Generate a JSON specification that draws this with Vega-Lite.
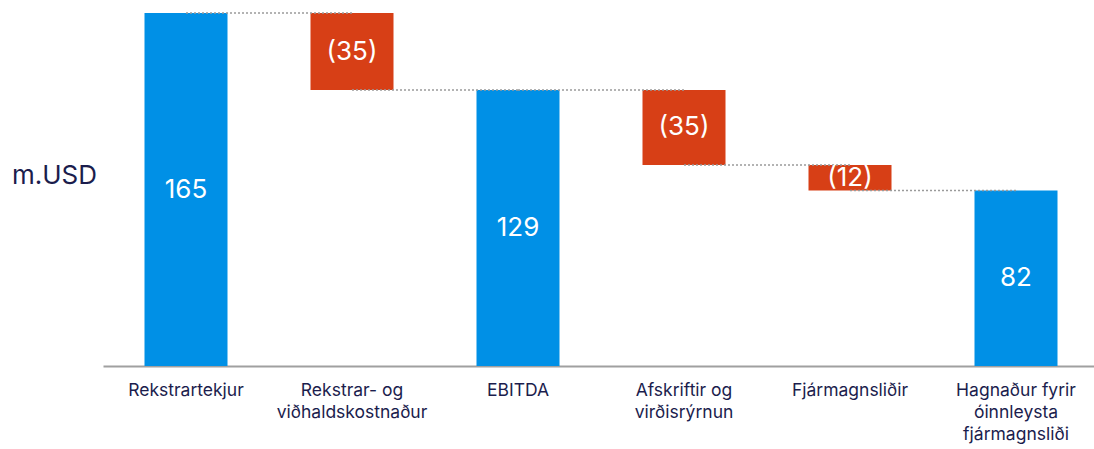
{
  "$schema": "https://vega.github.io/schema/vega-lite/v6.json",
  "width": 996,
  "height": 353,
  "autosize": {"type": "none"},
  "padding": {"left": 103, "top": 13, "right": 0, "bottom": 83},
  "background": "white",
  "config": {"view": {"stroke": null}, "font": "Inter"},
  "datasets": {
    "bars": [
      {"cat": "Rekstrartekjur", "start": 0, "end": 165, "label": "165", "kind": "total"},
      {"cat": "Rekstrar- og|viðhaldskostnaður", "start": 165, "end": 129, "label": "(35)", "kind": "neg"},
      {"cat": "EBITDA", "start": 0, "end": 129, "label": "129", "kind": "total"},
      {"cat": "Afskriftir og|virðisrýrnun", "start": 129, "end": 94, "label": "(35)", "kind": "neg"},
      {"cat": "Fjármagnsliðir", "start": 94, "end": 82, "label": "(12)", "kind": "neg"},
      {"cat": "Hagnaður fyrir|óinnleysta|fjármagnsliði", "start": 0, "end": 82, "label": "82", "kind": "total"}
    ],
    "links": [
      {"cat": "Rekstrartekjur", "next": "Rekstrar- og|viðhaldskostnaður", "level": 165},
      {"cat": "Rekstrar- og|viðhaldskostnaður", "next": "EBITDA", "level": 129},
      {"cat": "EBITDA", "next": "Afskriftir og|virðisrýrnun", "level": 129},
      {"cat": "Afskriftir og|virðisrýrnun", "next": "Fjármagnsliðir", "level": 94},
      {"cat": "Fjármagnsliðir", "next": "Hagnaður fyrir|óinnleysta|fjármagnsliði", "level": 82}
    ]
  },
  "layer": [
    {
      "data": {"name": "bars"},
      "mark": {"type": "bar"},
      "encoding": {
        "x": {
          "field": "cat", "type": "nominal", "sort": null,
          "scale": {"paddingInner": 0.5, "paddingOuter": 0.25},
          "axis": {
            "title": null,
            "labelAngle": 0,
            "labelExpr": "split(datum.value, '|')",
            "labelFontSize": 17.5,
            "labelColor": "#1b1d4d",
            "labelLineHeight": 22,
            "labelPadding": 15,
            "labelFont": "Inter",
            "ticks": false,
            "domainColor": "#a0a0a0",
            "domainWidth": 2
          }
        },
        "y": {
          "field": "start", "type": "quantitative",
          "scale": {"domain": [0, 165], "nice": false, "zero": true},
          "axis": {
            "title": "m.USD",
            "titleAngle": 0,
            "titleX": -49,
            "titleY": 162,
            "titleAlign": "center",
            "titleBaseline": "middle",
            "titleFontSize": 26,
            "titleFontWeight": "normal",
            "titleColor": "#1b1d4d",
            "titleFont": "Inter",
            "labels": false,
            "ticks": false,
            "domain": false,
            "grid": false
          }
        },
        "y2": {"field": "end"},
        "color": {
          "field": "kind", "type": "nominal",
          "scale": {"domain": ["total", "neg"], "range": ["#0090e6", "#d73f16"]},
          "legend": null
        }
      }
    },
    {
      "data": {"name": "links"},
      "mark": {"type": "rule", "strokeDash": [2, 2], "color": "#9a9a9a", "strokeWidth": 1.5},
      "encoding": {
        "x": {"field": "cat", "type": "nominal", "sort": null},
        "x2": {"field": "next"},
        "y": {"field": "level", "type": "quantitative"}
      }
    },
    {
      "data": {"name": "bars"},
      "transform": [{"calculate": "(datum.start + datum.end) / 2", "as": "mid"}],
      "mark": {"type": "text", "color": "white", "fontSize": 26, "font": "Inter", "baseline": "middle"},
      "encoding": {
        "x": {"field": "cat", "type": "nominal", "sort": null},
        "y": {"field": "mid", "type": "quantitative"},
        "text": {"field": "label"}
      }
    }
  ]
}
